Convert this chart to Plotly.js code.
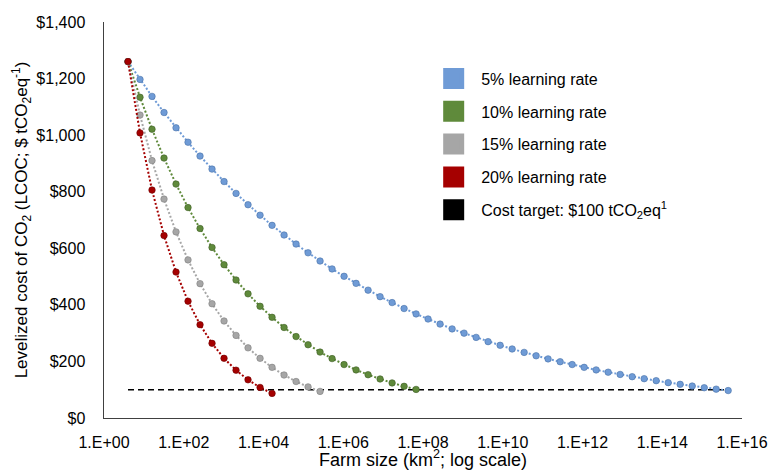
<!DOCTYPE html>
<html><head><meta charset="utf-8">
<script src="https://cdn.plot.ly/plotly-3.0.1.min.js"></script>
<style>html,body{margin:0;padding:0;background:#fff}#chart{width:771px;height:470px}</style>
</head><body><div id="chart"></div>
<script>
// Farm size (km2), doubling steps
const farmSize = [4, 8, 16, 32, 64, 128, 256, 512, 1024, 2048, 4096, 8192, 16384, 32768, 65536,
  131072, 262144, 524288, 1048576, 2097152, 4194304, 8388608, 16777216, 33554432, 67108864,
  1.34e8, 2.68e8, 5.37e8, 1.07e9, 2.15e9, 4.29e9, 8.59e9, 1.72e10, 3.44e10, 6.87e10,
  1.37e11, 2.75e11, 5.50e11, 1.10e12, 2.20e12, 4.40e12, 8.80e12, 1.76e13, 3.52e13, 7.04e13,
  1.41e14, 2.81e14, 5.63e14, 1.13e15, 2.25e15, 4.50e15];

// Levelized cost of CO2 ($ / tCO2eq)
const lr5 = [1260, 1197, 1137, 1080, 1026, 975, 926, 880, 836, 794, 754, 717, 681, 647, 615,
  584, 555, 527, 501, 476, 452, 429, 408, 387, 368, 350, 332, 315, 300, 285, 270, 257, 244,
  232, 220, 209, 199, 189, 179, 170, 162, 154, 146, 139, 132, 125, 119, 113, 107, 102, 97];
const lr10 = [1260, 1134, 1021, 919, 827, 744, 670, 603, 542, 488, 439, 395, 356, 320, 288,
  259, 233, 210, 189, 170, 153, 138, 124, 112, 101];
const lr15 = [1260, 1071, 910, 774, 658, 559, 475, 404, 343, 292, 248, 211, 179, 152, 129, 110, 94];
const lr20 = [1260, 1008, 806, 645, 516, 413, 330, 264, 211, 169, 135, 108, 87];

const targetX = [4, 4.5e15];
const targetY = [100, 100];

const seriesNames = ['5% learning rate', '10% learning rate', '15% learning rate', '20% learning rate',
  'Cost target: $100 tCO<sub>2</sub>eq<sup>1</sup>'];

const xTickVals = [1, 1e2, 1e4, 1e6, 1e8, 1e10, 1e12, 1e14, 1e16];
const xTickText = ['1.E+00', '1.E+02', '1.E+04', '1.E+06', '1.E+08', '1.E+10', '1.E+12', '1.E+14', '1.E+16'];
const yTickVals = [0, 200, 400, 600, 800, 1000, 1200, 1400];
const yTickText = ['$0', '$200', '$400', '$600', '$800', '$1,000', '$1,200', '$1,400'];

const fillCol = ['#6F9BD6', '#5F8A3B', '#A6A6A6', '#A50000', '#000000'];
const edgeCol = ['#4A72A8', '#3F5E26', '#7F7F7F', '#6E0000', '#000000'];
const seriesY = [lr5, lr10, lr15, lr20];

const traces = [];
traces.push({
  x: targetX, y: targetY, mode: 'lines', showlegend: false, hoverinfo: 'skip',
  line: {color: '#000', width: 1.5, dash: '6px,4px'}
});
seriesY.forEach((ys, i) => {
  traces.push({
    x: farmSize.slice(0, ys.length), y: ys, mode: 'lines+markers', showlegend: false,
    line: {color: fillCol[i], width: 2, dash: '2px,2px'},
    marker: {size: 6.5, color: fillCol[i], line: {color: edgeCol[i], width: 0.6}}
  });
});
seriesNames.forEach((nm, i) => {
  traces.push({
    x: [null], y: [null], mode: 'markers', name: nm, legendgroup: 'g' + i,
    marker: {symbol: 'square', size: 16, color: fillCol[i], line: {color: fillCol[i], width: 5}}
  });
});

const font = {family: '"Liberation Sans", Arial, sans-serif', color: '#000'};

const layout = {
  width: 771, height: 470,
  margin: {l: 104, r: 29, t: 22, b: 52},
  paper_bgcolor: '#fff', plot_bgcolor: '#fff',
  font: Object.assign({size: 16}, font),
  showlegend: true,
  legend: {x: 0.505, y: 0.9, xanchor: 'left', yanchor: 'top', traceorder: 'grouped',
    tracegroupgap: 9, itemwidth: 45, font: Object.assign({size: 16}, font), bgcolor: 'rgba(0,0,0,0)'},
  xaxis: {
    type: 'log', range: [0, 16], tickmode: 'array', tickvals: xTickVals, ticktext: xTickText,
    showgrid: false, zeroline: false, showline: true, linecolor: '#404040', linewidth: 1.2,
    ticks: '', ticklabelstandoff: 10, tickfont: Object.assign({size: 16}, font),
    title: {text: 'Farm size (km<sup>2</sup>; log scale)', font: Object.assign({size: 18}, font), standoff: 12},
    automargin: false
  },
  yaxis: {
    range: [0, 1400], tickmode: 'array', tickvals: yTickVals, ticktext: yTickText,
    showgrid: false, zeroline: false, showline: true, linecolor: '#404040', linewidth: 1.5,
    ticks: '', ticklabelstandoff: 14, tickfont: Object.assign({size: 16}, font),
    title: {text: 'Levelized cost of CO<sub>2</sub> (LCOC; $ tCO<sub>2</sub>eq<sup>-1</sup>)',
      font: Object.assign({size: 17}, font), standoff: 4},
    automargin: false
  }
};

Plotly.newPlot('chart', traces, layout, {displayModeBar: false, staticPlot: true});
</script>
</body></html>
